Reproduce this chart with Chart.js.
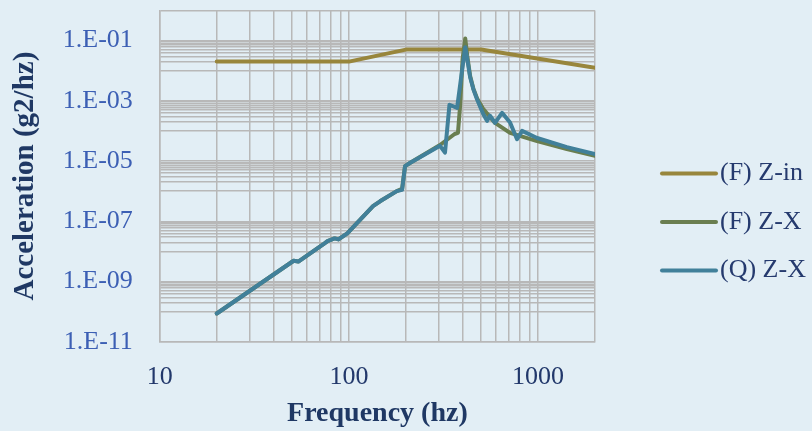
<!DOCTYPE html>
<html>
<head>
<meta charset="utf-8">
<script src="https://cdn.jsdelivr.net/npm/chart.js"></script>
<style>
    body { margin: 0; background: #e2eef5; }
    .chart-container { width: 812px; height: 431px; position: relative; }
</style>
</head>
<body>
<div class="chart-container">
    <canvas id="psdChart"></canvas>
</div>
<script>
    // series names
    var seriesNames = ['(F) Z-in', '(F) Z-X', '(Q) Z-X'];

    // (F) Z-in input spec
    var freqZin = [20, 100, 200, 500, 2000];
    var accZin = [0.02, 0.02, 0.05, 0.05, 0.0125];

    // (F) Z-X response
    var freqFX = [20, 51, 54, 73, 77, 84, 88, 98, 134, 146, 179, 191, 198, 210, 303, 362, 377, 387, 399, 412, 422, 437, 455, 476, 512, 592, 711, 988, 1420, 2000];
    var accFX = [8.7e-11, 4.9e-9, 4.6e-9, 1.7e-8, 2.2e-8, 2.7e-8, 2.5e-8, 4e-8, 3.2e-7, 4.6e-7, 1e-6, 1.2e-6, 6.8e-6, 8.6e-6, 3.4e-5, 7.9e-5, 8.6e-5, 6.8e-4, 0.025, 0.117, 0.032, 6.8e-3, 2.5e-3, 1.2e-3, 5.4e-4, 1.85e-4, 8.6e-5, 4.6e-5, 2.5e-5, 1.5e-5];

    // (Q) Z-X response
    var freqQX = [20, 51, 54, 73, 77, 84, 88, 98, 134, 146, 179, 191, 198, 210, 303, 322, 340, 373, 393, 412, 422, 437, 455, 476, 512, 537, 557, 592, 645, 711, 774, 823, 988, 1420, 2000];
    var accQX = [8.7e-11, 4.9e-9, 4.6e-9, 1.7e-8, 2.2e-8, 2.7e-8, 2.5e-8, 4e-8, 3.2e-7, 4.6e-7, 1e-6, 1.1e-6, 6.8e-6, 8.6e-6, 3.2e-5, 1.9e-5, 7.4e-4, 5.8e-4, 6.8e-3, 0.06, 0.025, 6.2e-3, 2.4e-3, 1.1e-3, 3.7e-4, 2.15e-4, 3.2e-4, 1.85e-4, 4e-4, 1.9e-4, 5.3e-5, 1e-4, 5.8e-5, 2.9e-5, 1.7e-5];

    // axis labels
    var xTickLabels = [10, 100, 1000];
    var yTickExponents = [-11, -9, -7, -5, -3, -1];

    var colors = ['#98863c', '#6a7e50', '#41809a'];
    var gridColor = '#b8b8b8';
    var fontFamily = "'Palatino Linotype', 'Book Antiqua', Palatino, 'Liberation Serif', serif";

    function toPoints(xs, ys) {
        var pts = [];
        for (var i = 0; i < xs.length; i++) {
            pts.push({ x: xs[i], y: ys[i] });
        }
        return pts;
    }

    // grid positions (log decades with minor lines like the excel chart)
    var xGrid = [];
    [10, 100, 1000].forEach(function (d) {
        for (var k = 1; k <= 9; k++) {
            if (d * k <= 2000) xGrid.push(d * k);
        }
    });
    var yGrid = [];
    yTickExponents.forEach(function (e) {
        yGrid.push(Math.pow(10, e));
        for (var k = 1; k <= 9; k++) {
            var v = k * Math.pow(10, e + 1);
            if (v <= 1) yGrid.push(v);
        }
    });

    function expLabel(v) {
        var e = Math.round(Math.log10(v));
        if (yTickExponents.indexOf(e) < 0) return '';
        if (Math.abs(Math.log10(v) - e) > 1e-6) return '';
        var a = Math.abs(e);
        return '1.E' + (e < 0 ? '-' : '+') + (a < 10 ? '0' + a : a);
    }

    // legend drawn to the right of the plot, excel style
    var sideLegend = {
        id: 'sideLegend',
        afterDraw: function (chart) {
            var c = chart.ctx;
            var area = chart.chartArea;
            var x0 = area.right + 67;
            var midY = (area.top + area.bottom) / 2 + 46;
            c.save();
            c.font = '26px ' + fontFamily;
            c.textBaseline = 'middle';
            c.fillStyle = '#253a6e';
            chart.data.datasets.forEach(function (ds, i) {
                var y = midY + (i - 1) * 48.5;
                c.beginPath();
                c.strokeStyle = ds.borderColor;
                c.lineWidth = 4;
                c.lineCap = 'round';
                c.moveTo(x0, y);
                c.lineTo(x0 + 54, y);
                c.stroke();
                c.fillText(ds.label, x0 + 58, y);
            });
            c.restore();
        }
    };

    var hiddenTicks = 'rgba(0,0,0,0)';

    var ctx = document.getElementById('psdChart').getContext('2d');
    new Chart(ctx, {
        type: 'line',
        data: {
            datasets: [
                { label: seriesNames[0], data: toPoints(freqZin, accZin), order: 3 },
                { label: seriesNames[1], data: toPoints(freqFX, accFX), order: 2 },
                { label: seriesNames[2], data: toPoints(freqQX, accQX), order: 1 }
            ].map(function (ds, i) {
                ds.borderColor = colors[i];
                ds.backgroundColor = colors[i];
                ds.borderWidth = 4;
                ds.pointRadius = 0;
                ds.tension = 0;
                ds.fill = false;
                ds.borderCapStyle = 'round';
                ds.borderJoinStyle = 'round';
                return ds;
            })
        },
        plugins: [sideLegend],
        options: {
            responsive: true,
            maintainAspectRatio: false,
            animation: false,
            layout: { padding: { top: 10, right: 217, bottom: 0, left: 0 } },
            plugins: {
                tooltip: { enabled: false },
                legend: { display: false }
            },
            scales: {
                x: {
                    type: 'logarithmic',
                    min: 10,
                    max: 2000,
                    grid: { color: gridColor, lineWidth: 1.5, drawTicks: true, tickLength: 16, tickColor: hiddenTicks },
                    border: { color: gridColor, width: 1.5 },
                    afterBuildTicks: function (scale) {
                        scale.ticks = xGrid.map(function (v) { return { value: v }; });
                    },
                    ticks: {
                        autoSkip: false,
                        maxRotation: 0,
                        padding: 4,
                        color: '#22386b',
                        font: { family: fontFamily, size: 26 },
                        callback: function (v) {
                            return xTickLabels.indexOf(v) >= 0 ? String(v) : '';
                        }
                    },
                    title: {
                        display: true,
                        text: 'Frequency (hz)',
                        color: '#1f3864',
                        padding: { top: 3, bottom: 3 },
                        font: { family: fontFamily, size: 28, weight: 'bold', lineHeight: 1 }
                    }
                },
                y: {
                    type: 'logarithmic',
                    min: 1e-11,
                    max: 1,
                    grid: { color: gridColor, lineWidth: 1.5, drawTicks: true, tickLength: 27, tickColor: hiddenTicks },
                    border: { color: gridColor, width: 1.5 },
                    afterBuildTicks: function (scale) {
                        scale.ticks = yGrid.map(function (v) { return { value: v }; });
                    },
                    ticks: {
                        autoSkip: false,
                        padding: 0,
                        color: '#3c5fb4',
                        font: { family: fontFamily, size: 26, lineHeight: 0.8 },
                        callback: function (v) { return expLabel(v); }
                    },
                    title: {
                        display: true,
                        text: 'Acceleration (g2/hz)',
                        color: '#1f3864',
                        padding: { top: 8, bottom: 20 },
                        font: { family: fontFamily, size: 29, weight: 'bold' }
                    }
                }
            }
        }
    });
</script>
</body>
</html>
